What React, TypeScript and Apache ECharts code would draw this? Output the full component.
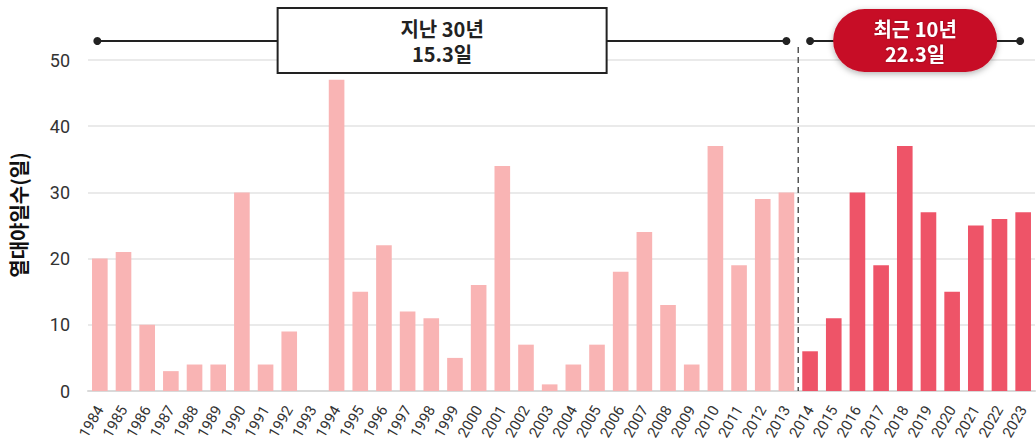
import React, { useEffect, useRef } from "react";
import * as echarts from "echarts";

const years = [
  "1984","1985","1986","1987","1988","1989","1990","1991","1992","1993",
  "1994","1995","1996","1997","1998","1999","2000","2001","2002","2003",
  "2004","2005","2006","2007","2008","2009","2010","2011","2012","2013",
  "2014","2015","2016","2017","2018","2019","2020","2021","2022","2023",
];
const tropicalNights = [
  20, 21, 10, 3, 4, 4, 30, 4, 9, 0,
  47, 15, 22, 12, 11, 5, 16, 34, 7, 1,
  4, 7, 18, 24, 13, 4, 37, 19, 29, 30,
  6, 11, 30, 19, 37, 27, 15, 25, 26, 27,
];
const yTicks = [0, 10, 20, 30, 40, 50];
const pastLabel = ["지난 30년", "15.3일"];
const recentLabel = ["최근 10년", "22.3일"];
const recentStartYear = "2014";
const yAxisTitle = "열대야일수(일)";

const LIGHT = "#F9B4B4";
const DARK = "#EE5468";
const PILL = "#C70F28";
const INK = "#222222";
const FONT = "'Noto Sans CJK KR', Roboto, sans-serif";

export default function App() {
  const ref = useRef<HTMLDivElement>(null);
  useEffect(() => {
    document.body.style.margin = "0";
    if (!ref.current) return;
    const chart = echarts.init(ref.current, null, { renderer: "svg" });
    const splitIdx = years.indexOf(recentStartYear);
    chart.setOption({
      animation: false,
      grid: { left: 88, right: 1, top: 60, bottom: 54, containLabel: false },
      xAxis: {
        type: "category",
        data: years,
        axisLine: { show: true, lineStyle: { color: "#d9d9d9", width: 2 } },
        axisTick: { show: false },
        axisLabel: {
          rotate: 60,
          interval: 0,
          margin: 16,
          fontSize: 15,
          color: "#333",
          fontFamily: "Roboto, sans-serif",
        },
      },
      yAxis: {
        type: "value",
        min: yTicks[0],
        max: yTicks[yTicks.length - 1],
        interval: 10,
        axisLine: { show: false },
        axisTick: { show: false },
        axisLabel: {
          fontSize: 18,
          color: "#333",
          margin: 18,
          fontFamily: "Roboto, sans-serif",
        },
        splitLine: { lineStyle: { color: "#e3e3e3", width: 1.5 } },
      },
      series: [
        {
          type: "bar",
          data: tropicalNights.map((v, i) => ({
            value: v,
            itemStyle: { color: i < splitIdx ? LIGHT : DARK },
          })),
          barCategoryGap: "34%",
        },
      ],
    });

    const px = (cat: string) => chart.convertToPixel({ xAxisIndex: 0 }, cat) as number;
    const x0 = px(years[0]);
    const x1 = px(years[splitIdx - 1]);
    const x2 = px(years[splitIdx]);
    const x3 = px(years[years.length - 1]);
    const xSplit = (x1 + x2) / 2;
    const yZero = chart.convertToPixel({ yAxisIndex: 0 }, 0) as number;
    const lineY = 41;
    const boxW = 329;
    const boxH = 65;
    const pillW = 164;
    const pillH = 63;
    const c1 = (x0 + x1) / 2 - 1;
    const c2 = (x2 + x3) / 2 - 1.5;

    const labelText = (cx: number, lines: string[], fill: string, shadow: boolean) =>
      lines.map((t, i) => ({
        type: "text",
        x: cx,
        y: 28 + i * 25,
        style: {
          text: t,
          fill,
          fontSize: 20,
          fontWeight: "bold",
          fontFamily: FONT,
          align: "center",
          verticalAlign: "middle",
          textShadowBlur: shadow ? 2 : 0,
          textShadowColor: shadow ? "rgba(0,0,0,0.35)" : "transparent",
        },
        z: 13,
      }));

    chart.setOption({
      graphic: [
        {
          type: "text",
          x: 18,
          y: 215,
          rotation: Math.PI / 2,
          style: {
            text: yAxisTitle,
            fill: "#111",
            fontSize: 20,
            fontWeight: "bold",
            fontFamily: FONT,
            align: "center",
            verticalAlign: "middle",
          },
        },
        {
          type: "line",
          shape: { x1: xSplit, y1: 47, x2: xSplit, y2: yZero },
          style: { stroke: "#555", lineWidth: 1.5, lineDash: [6, 4] },
          z: 10,
        },
        {
          type: "line",
          shape: { x1: x0 - 2.5, y1: lineY, x2: x1, y2: lineY },
          style: { stroke: INK, lineWidth: 2 },
          z: 10,
        },
        { type: "circle", shape: { cx: x0 - 2.5, cy: lineY, r: 4 }, style: { fill: INK }, z: 11 },
        { type: "circle", shape: { cx: x1, cy: lineY, r: 4 }, style: { fill: INK }, z: 11 },
        {
          type: "rect",
          shape: { x: c1 - boxW / 2, y: 8, width: boxW, height: boxH },
          style: { fill: "#fff", stroke: INK, lineWidth: 2 },
          z: 12,
        },
        ...labelText(c1, pastLabel, INK, false),
        {
          type: "line",
          shape: { x1: x2, y1: lineY, x2: x3 - 3, y2: lineY },
          style: { stroke: INK, lineWidth: 2 },
          z: 10,
        },
        { type: "circle", shape: { cx: x2, cy: lineY, r: 4 }, style: { fill: INK }, z: 11 },
        { type: "circle", shape: { cx: x3 - 3, cy: lineY, r: 4 }, style: { fill: INK }, z: 11 },
        {
          type: "rect",
          shape: { x: c2 - pillW / 2, y: 9, width: pillW, height: pillH, r: pillH / 2 },
          style: {
            fill: PILL,
            shadowBlur: 6,
            shadowColor: "rgba(0,0,0,0.3)",
            shadowOffsetY: 2,
          },
          z: 12,
        },
        ...labelText(c2, recentLabel, "#fff", true),
      ],
    });
    return () => chart.dispose();
  }, []);
  return <div ref={ref} style={{ width: 1036, height: 445 }} />;
}
